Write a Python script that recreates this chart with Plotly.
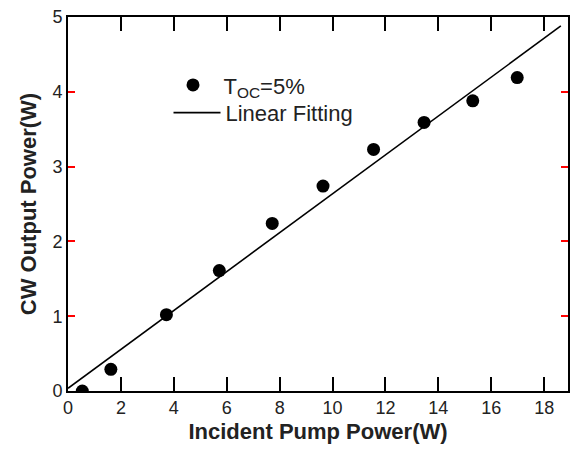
import plotly.graph_objects as go

# Data
pump_power = [0.54, 1.62, 3.72, 5.72, 7.72, 9.64, 11.55, 13.46, 15.30, 16.98]
output_power = [0.0, 0.29, 1.02, 1.61, 2.24, 2.74, 3.23, 3.59, 3.88, 4.19]

fit_x = [0.0, 18.63]
fit_y = [0.036, 4.88]

x_range = [0, 18.9]
y_range = [0, 5]
x_major_step = 2
y_major_step = 1

FONT = "Liberation Sans, Arial, sans-serif"

fig = go.Figure()
fig.add_trace(go.Scatter(
    x=pump_power, y=output_power, mode="markers",
    marker=dict(color="black", size=13, symbol="circle"),
    name="T<sub>OC</sub>=5%", legend="legend",
))
fig.add_trace(go.Scatter(
    x=fit_x, y=fit_y, mode="lines",
    line=dict(color="black", width=1.6),
    name="Linear Fitting", legend="legend2",
))

axis_common = dict(
    showgrid=False, zeroline=False, showline=True, linecolor="black",
    linewidth=1.6, mirror="allticks", ticks="inside",
    tickfont=dict(family=FONT, size=18, color="#222"),
)

fig.update_xaxes(
    range=x_range, tickmode="linear", tick0=0, dtick=x_major_step,
    ticklen=14, tickwidth=2, tickcolor="black",
    title=dict(text="<b>Incident Pump Power(W)</b>", font=dict(family=FONT, size=22, color="#222"), standoff=6),
    **axis_common,
)
fig.update_yaxes(
    range=y_range, tickmode="linear", tick0=0, dtick=y_major_step,
    ticklen=7, tickwidth=2, tickcolor="red",
    title=dict(text="<b>CW Output Power(W)</b>", font=dict(family=FONT, size=22, color="#222"), standoff=10),
    **axis_common,
)

legend_common = dict(
    xanchor="left", yanchor="top",
    font=dict(family=FONT, size=22, color="#222"),
    bgcolor="rgba(0,0,0,0)", tracegroupgap=0,
)

fig.update_layout(
    width=577, height=451,
    margin=dict(l=68, r=7, t=15, b=60),
    paper_bgcolor="white", plot_bgcolor="white",
    showlegend=True,
    legend=dict(x=0.189, y=0.874, itemwidth=51, **legend_common),
    legend2=dict(x=0.201, y=0.800, itemwidth=47, **legend_common),
)

fig.write_html("out.html")
